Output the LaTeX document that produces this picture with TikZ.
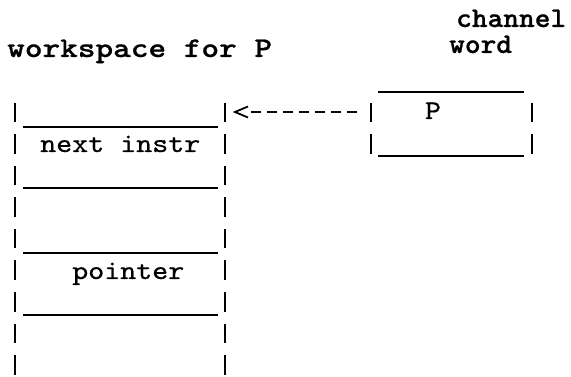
\documentclass[tikz,border=0pt]{standalone}
\usepackage{fontspec}
\newfontfamily\monotext{lmmono10-regular.otf}[FakeBold=0.6]
\newfontfamily\monohead{lmmonolt10-bold.otf}[FakeBold=0.7]
\begin{document}
\begin{tikzpicture}[x=1pt,y=-1pt,
  label/.style={inner sep=0pt, anchor=base west, xscale=1.129, font=\monotext\fontsize{27}{30}\selectfont},
  head/.style={inner sep=0pt, anchor=base west, xscale=1.18, font=\monohead\fontsize{28.5}{32}\selectfont},
  subhead/.style={head, xscale=0.89},
  frame/.style={inner sep=0pt, outer sep=0pt, anchor=north west},
  bar/.style={line width=2.3pt, dash pattern=on 19.5pt off 12pt},
  rule/.style={line width=2pt},
  link/.style={line width=2pt, dash pattern=on 10.5pt off 5.5pt},
  chev/.style={line width=1.8pt, line join=miter}]

\useasboundingbox (0,0) rectangle (571,377);

% headings
\node[head] (wsTitle) at (7,57) {workspace for P};
\node[subhead] (cwTitleA) at (456,27) {channel};
\node[subhead] (cwTitleB) at (449,53) {word};

% the two frames (invisible nodes carrying the geometry)
\node[frame, minimum width=210pt, minimum height=271.5pt] (ws) at (15,103) {};
\node[frame, minimum width=161pt, minimum height=51pt] (cw) at (371,103) {};

% typed vertical bars
\draw[bar] (ws.north west) -- (ws.south west);
\draw[bar] (ws.north east) -- (ws.south east);
\draw[bar] (cw.north west) -- (cw.south west);
\draw[bar] (cw.north east) -- (cw.south east);

% underscores dividing the workspace
\foreach \dy in {24,85,150,212}
  \draw[rule] ([shift={(8,\dy)}]ws.north west) -- ([shift={(-7,\dy)}]ws.north east);

% top and bottom of the channel word
\draw[rule] ([shift={(7,-10.5)}]cw.north west) -- ([shift={(-8,-10.5)}]cw.north east);
\draw[rule] ([shift={(7,53)}]cw.north west) -- ([shift={(-8,53)}]cw.north east);

% slot contents
\node[label] (nextInstr) at (40,152) {next instr};
\node[label] (ptr) at (72,279) {pointer};
\node[label, anchor=base] (chP) at (433,119) {P};

% channel word points at the workspace
\coordinate (wsPort) at ([yshift=-9pt]ws.north east);
\coordinate (cwPort) at ([yshift=-9pt]cw.north west);
\draw[link, shorten <=14pt, shorten >=26pt] (cwPort) -- (wsPort);
\draw[chev] ([shift={(23,-5.5)}]wsPort) -- ([shift={(10,0)}]wsPort) -- ([shift={(23,5.5)}]wsPort);
\end{tikzpicture}
\end{document}
